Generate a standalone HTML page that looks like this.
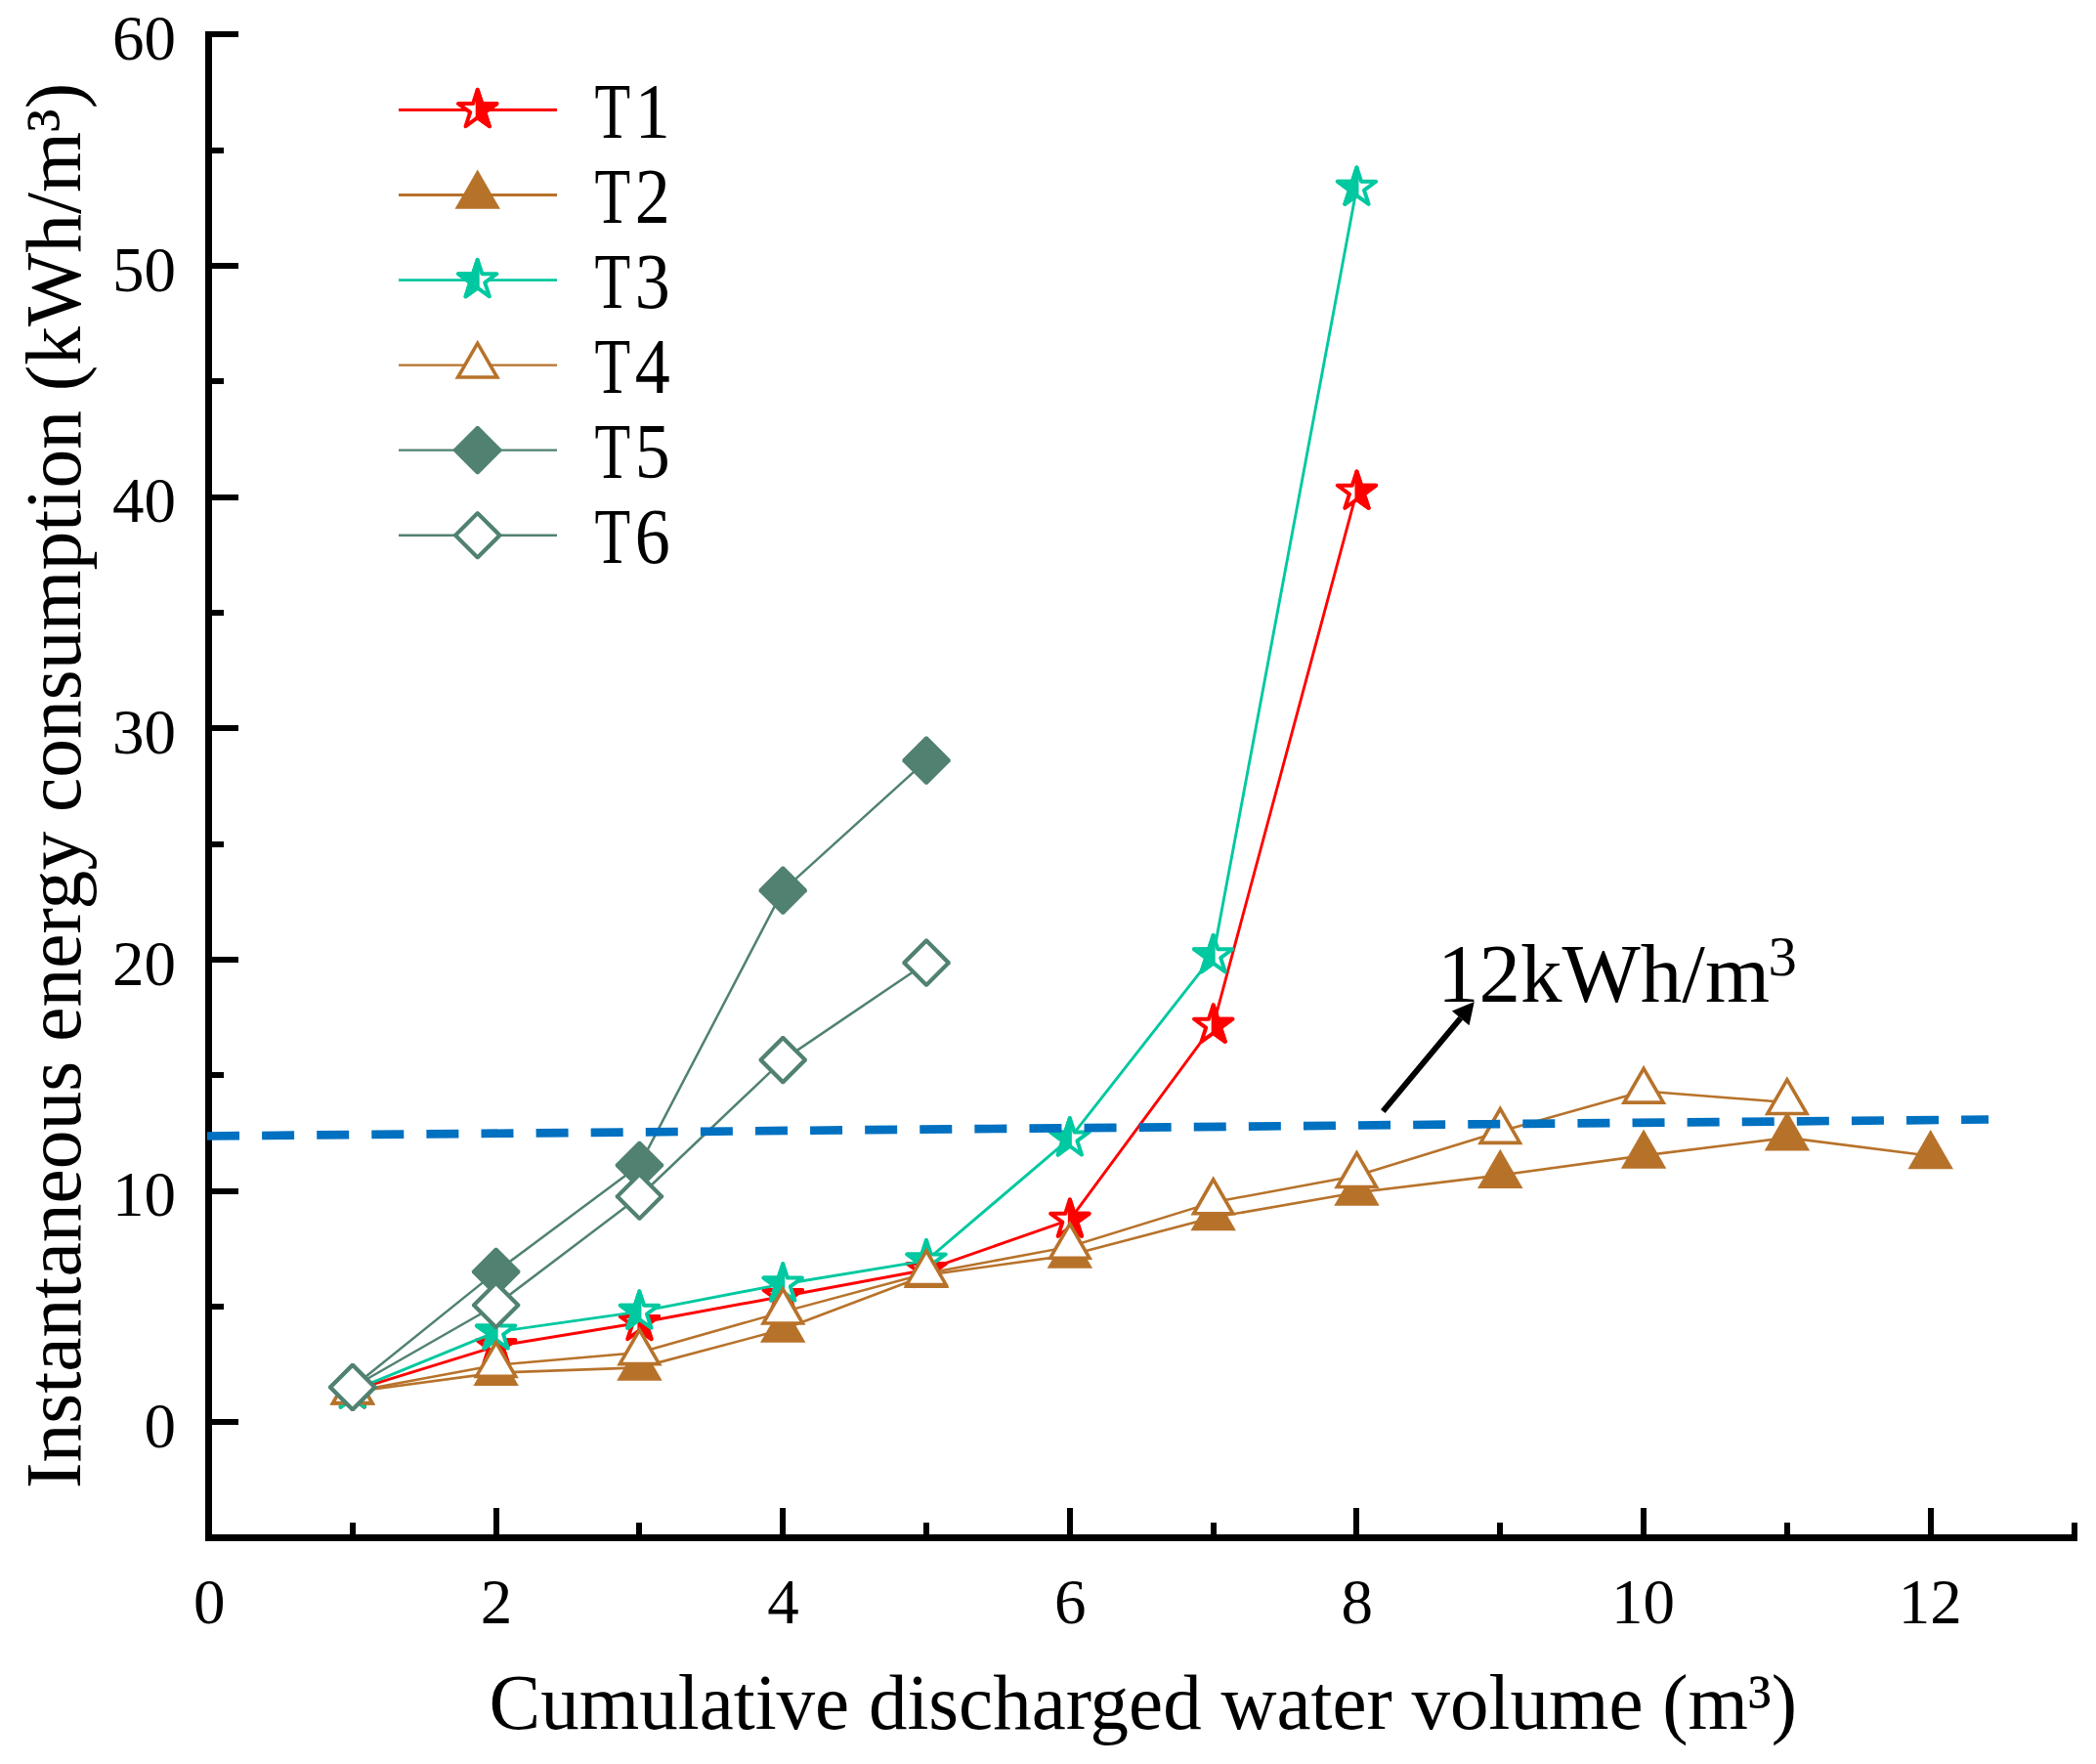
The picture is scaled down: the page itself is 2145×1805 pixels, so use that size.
<!DOCTYPE html>
<html lang="en">
<head>
<meta charset="utf-8">
<title>Instantaneous energy consumption vs cumulative discharged water volume</title>
<style>
html,body{margin:0;padding:0;background:#fff;}
body{width:2145px;height:1805px;overflow:hidden;}
svg{display:block;}
text{font-family:"Liberation Serif",serif;fill:#000;}
</style>
</head>
<body>
<svg width="2145" height="1805" viewBox="0 0 2145 1805">
<rect x="0" y="0" width="2145" height="1805" fill="#fff"/>
<g id="axes" fill="#000" shape-rendering="crispEdges">
<rect x="210" y="32" width="7" height="1545"/>
<rect x="210" y="1570" width="1916" height="7"/>
<rect x="217" y="1452" width="27" height="6"/>
<rect x="217" y="1334" width="12" height="6"/>
<rect x="217" y="1216" width="27" height="6"/>
<rect x="217" y="1097" width="12" height="6"/>
<rect x="217" y="979" width="27" height="6"/>
<rect x="217" y="861" width="12" height="6"/>
<rect x="217" y="742" width="27" height="6"/>
<rect x="217" y="624" width="12" height="6"/>
<rect x="217" y="506" width="27" height="6"/>
<rect x="217" y="387" width="12" height="6"/>
<rect x="217" y="269" width="27" height="6"/>
<rect x="217" y="151" width="12" height="6"/>
<rect x="217" y="32" width="27" height="6"/>
<rect x="358" y="1558" width="6" height="13"/>
<rect x="505" y="1543" width="6" height="28"/>
<rect x="651" y="1558" width="6" height="13"/>
<rect x="798" y="1543" width="6" height="28"/>
<rect x="945" y="1558" width="6" height="13"/>
<rect x="1092" y="1543" width="6" height="28"/>
<rect x="1239" y="1558" width="6" height="13"/>
<rect x="1385" y="1543" width="6" height="28"/>
<rect x="1532" y="1558" width="6" height="13"/>
<rect x="1679" y="1543" width="6" height="28"/>
<rect x="1826" y="1558" width="6" height="13"/>
<rect x="1973" y="1543" width="6" height="28"/>
<rect x="2120" y="1558" width="6" height="13"/>
</g>
<g id="ticklabels" font-size="65">
<text x="180" y="1481" text-anchor="end">0</text>
<text x="180" y="1244.33" text-anchor="end">10</text>
<text x="180" y="1007.67" text-anchor="end">20</text>
<text x="180" y="771" text-anchor="end">30</text>
<text x="180" y="534.33" text-anchor="end">40</text>
<text x="180" y="297.66" text-anchor="end">50</text>
<text x="180" y="61" text-anchor="end">60</text>
<text x="214.3" y="1660.5" text-anchor="middle">0</text>
<text x="507.92" y="1660.5" text-anchor="middle">2</text>
<text x="801.54" y="1660.5" text-anchor="middle">4</text>
<text x="1095.16" y="1660.5" text-anchor="middle">6</text>
<text x="1388.78" y="1660.5" text-anchor="middle">8</text>
<text x="1681.6" y="1660.5" text-anchor="middle">10</text>
<text x="1975.22" y="1660.5" text-anchor="middle">12</text>
</g>
<text id="xtitle" transform="translate(500.6,1768.7) scale(0.9752,1)" font-size="81">Cumulative discharged water volume (m³)</text>
<text id="ytitle" transform="translate(81.7,1523) rotate(-90) scale(0.982,1)" font-size="81">Instantaneous energy consumption (kWh/m³)</text>
<g id="series">
<g id="T1">
<polyline points="360.81,1422.81 507.62,1377.61 654.43,1353.47 801.24,1326.49 948.05,1299.27 1094.86,1248.15 1241.67,1049.12 1388.48,503.13" fill="none" stroke="#ff0000" stroke-width="2.9" stroke-linejoin="round"/>
<polygon points="360.81,1402.11 365.46,1416.42 380.5,1416.42 368.33,1425.26 372.98,1439.56 360.81,1430.72 348.64,1439.56 353.29,1425.26 341.12,1416.42 356.16,1416.42" fill="#fff" stroke="#ff0000" stroke-width="4.0" stroke-linejoin="round"/>
<polygon points="360.81,1402.11 365.46,1416.42 380.5,1416.42 368.33,1425.26 372.98,1439.56 360.81,1430.72" fill="#ff0000" stroke="#ff0000" stroke-width="4.0" stroke-linejoin="round"/>
<polygon points="507.62,1356.91 512.27,1371.21 527.31,1371.21 515.14,1380.05 519.79,1394.36 507.62,1385.52 495.45,1394.36 500.1,1380.05 487.93,1371.21 502.97,1371.21" fill="#fff" stroke="#ff0000" stroke-width="4.0" stroke-linejoin="round"/>
<polygon points="507.62,1356.91 512.27,1371.21 527.31,1371.21 515.14,1380.05 519.79,1394.36 507.62,1385.52" fill="#ff0000" stroke="#ff0000" stroke-width="4.0" stroke-linejoin="round"/>
<polygon points="654.43,1332.77 659.08,1347.07 674.12,1347.07 661.95,1355.91 666.6,1370.22 654.43,1361.38 642.26,1370.22 646.91,1355.91 634.74,1347.07 649.78,1347.07" fill="#fff" stroke="#ff0000" stroke-width="4.0" stroke-linejoin="round"/>
<polygon points="654.43,1332.77 659.08,1347.07 674.12,1347.07 661.95,1355.91 666.6,1370.22 654.43,1361.38" fill="#ff0000" stroke="#ff0000" stroke-width="4.0" stroke-linejoin="round"/>
<polygon points="801.24,1305.79 805.89,1320.09 820.93,1320.09 808.76,1328.93 813.41,1343.24 801.24,1334.4 789.07,1343.24 793.72,1328.93 781.55,1320.09 796.59,1320.09" fill="#fff" stroke="#ff0000" stroke-width="4.0" stroke-linejoin="round"/>
<polygon points="801.24,1305.79 805.89,1320.09 820.93,1320.09 808.76,1328.93 813.41,1343.24 801.24,1334.4" fill="#ff0000" stroke="#ff0000" stroke-width="4.0" stroke-linejoin="round"/>
<polygon points="948.05,1278.57 952.7,1292.88 967.74,1292.88 955.57,1301.72 960.22,1316.02 948.05,1307.18 935.88,1316.02 940.53,1301.72 928.36,1292.88 943.4,1292.88" fill="#fff" stroke="#ff0000" stroke-width="4.0" stroke-linejoin="round"/>
<polygon points="948.05,1278.57 952.7,1292.88 967.74,1292.88 955.57,1301.72 960.22,1316.02 948.05,1307.18" fill="#ff0000" stroke="#ff0000" stroke-width="4.0" stroke-linejoin="round"/>
<polygon points="1094.86,1227.45 1099.51,1241.76 1114.55,1241.76 1102.38,1250.6 1107.03,1264.9 1094.86,1256.06 1082.69,1264.9 1087.34,1250.6 1075.17,1241.76 1090.21,1241.76" fill="#fff" stroke="#ff0000" stroke-width="4.0" stroke-linejoin="round"/>
<polygon points="1094.86,1227.45 1099.51,1241.76 1114.55,1241.76 1102.38,1250.6 1107.03,1264.9 1094.86,1256.06" fill="#ff0000" stroke="#ff0000" stroke-width="4.0" stroke-linejoin="round"/>
<polygon points="1241.67,1028.42 1246.32,1042.72 1261.36,1042.72 1249.19,1051.56 1253.84,1065.86 1241.67,1057.02 1229.5,1065.86 1234.15,1051.56 1221.98,1042.72 1237.02,1042.72" fill="#fff" stroke="#ff0000" stroke-width="4.0" stroke-linejoin="round"/>
<polygon points="1241.67,1028.42 1246.32,1042.72 1261.36,1042.72 1249.19,1051.56 1253.84,1065.86 1241.67,1057.02" fill="#ff0000" stroke="#ff0000" stroke-width="4.0" stroke-linejoin="round"/>
<polygon points="1388.48,482.43 1393.13,496.73 1408.17,496.73 1396,505.57 1400.65,519.87 1388.48,511.03 1376.31,519.87 1380.96,505.57 1368.79,496.73 1383.83,496.73" fill="#fff" stroke="#ff0000" stroke-width="4.0" stroke-linejoin="round"/>
<polygon points="1388.48,482.43 1393.13,496.73 1408.17,496.73 1396,505.57 1400.65,519.87 1388.48,511.03" fill="#ff0000" stroke="#ff0000" stroke-width="4.0" stroke-linejoin="round"/>
</g>
<g id="T2">
<polyline points="360.81,1424.23 507.62,1404.59 654.43,1399.38 801.24,1360.33 948.05,1304.72 1094.86,1284.36 1241.67,1245.79 1388.48,1220.23 1535.29,1202.48 1682.1,1182.36 1828.91,1164.14 1975.72,1182.83" fill="none" stroke="#b7722a" stroke-width="2.6" stroke-linejoin="round"/>
<polygon points="360.81,1397.43 384.02,1437.63 337.6,1437.63" fill="#b7722a"/>
<polygon points="507.62,1377.79 530.83,1417.99 484.41,1417.99" fill="#b7722a"/>
<polygon points="654.43,1372.58 677.64,1412.78 631.22,1412.78" fill="#b7722a"/>
<polygon points="801.24,1333.53 824.45,1373.73 778.03,1373.73" fill="#b7722a"/>
<polygon points="948.05,1277.92 971.26,1318.12 924.84,1318.12" fill="#b7722a"/>
<polygon points="1094.86,1257.56 1118.07,1297.76 1071.65,1297.76" fill="#b7722a"/>
<polygon points="1241.67,1218.99 1264.88,1259.19 1218.46,1259.19" fill="#b7722a"/>
<polygon points="1388.48,1193.43 1411.69,1233.63 1365.27,1233.63" fill="#b7722a"/>
<polygon points="1535.29,1175.68 1558.5,1215.88 1512.08,1215.88" fill="#b7722a"/>
<polygon points="1682.1,1155.56 1705.31,1195.76 1658.89,1195.76" fill="#b7722a"/>
<polygon points="1828.91,1137.34 1852.12,1177.54 1805.7,1177.54" fill="#b7722a"/>
<polygon points="1975.72,1156.03 1998.93,1196.23 1952.51,1196.23" fill="#b7722a"/>
</g>
<g id="T3">
<polyline points="360.81,1422.81 507.62,1362.94 654.43,1342.11 801.24,1313.95 948.05,1289.81 1094.86,1164.85 1241.67,977.64 1388.48,192.14" fill="none" stroke="#00c8a0" stroke-width="2.9" stroke-linejoin="round"/>
<polygon points="360.81,1402.11 365.46,1416.42 380.5,1416.42 368.33,1425.26 372.98,1439.56 360.81,1430.72 348.64,1439.56 353.29,1425.26 341.12,1416.42 356.16,1416.42" fill="#fff" stroke="#00c8a0" stroke-width="4.0" stroke-linejoin="round"/>
<polygon points="360.81,1430.72 348.64,1439.56 353.29,1425.26 341.12,1416.42 356.16,1416.42 360.81,1402.11" fill="#00c8a0" stroke="#00c8a0" stroke-width="4.0" stroke-linejoin="round"/>
<polygon points="507.62,1342.24 512.27,1356.54 527.31,1356.54 515.14,1365.38 519.79,1379.68 507.62,1370.84 495.45,1379.68 500.1,1365.38 487.93,1356.54 502.97,1356.54" fill="#fff" stroke="#00c8a0" stroke-width="4.0" stroke-linejoin="round"/>
<polygon points="507.62,1370.84 495.45,1379.68 500.1,1365.38 487.93,1356.54 502.97,1356.54 507.62,1342.24" fill="#00c8a0" stroke="#00c8a0" stroke-width="4.0" stroke-linejoin="round"/>
<polygon points="654.43,1321.41 659.08,1335.71 674.12,1335.71 661.95,1344.55 666.6,1358.86 654.43,1350.02 642.26,1358.86 646.91,1344.55 634.74,1335.71 649.78,1335.71" fill="#fff" stroke="#00c8a0" stroke-width="4.0" stroke-linejoin="round"/>
<polygon points="654.43,1350.02 642.26,1358.86 646.91,1344.55 634.74,1335.71 649.78,1335.71 654.43,1321.41" fill="#00c8a0" stroke="#00c8a0" stroke-width="4.0" stroke-linejoin="round"/>
<polygon points="801.24,1293.25 805.89,1307.55 820.93,1307.55 808.76,1316.39 813.41,1330.69 801.24,1321.85 789.07,1330.69 793.72,1316.39 781.55,1307.55 796.59,1307.55" fill="#fff" stroke="#00c8a0" stroke-width="4.0" stroke-linejoin="round"/>
<polygon points="801.24,1321.85 789.07,1330.69 793.72,1316.39 781.55,1307.55 796.59,1307.55 801.24,1293.25" fill="#00c8a0" stroke="#00c8a0" stroke-width="4.0" stroke-linejoin="round"/>
<polygon points="948.05,1269.11 952.7,1283.41 967.74,1283.41 955.57,1292.25 960.22,1306.55 948.05,1297.71 935.88,1306.55 940.53,1292.25 928.36,1283.41 943.4,1283.41" fill="#fff" stroke="#00c8a0" stroke-width="4.0" stroke-linejoin="round"/>
<polygon points="948.05,1297.71 935.88,1306.55 940.53,1292.25 928.36,1283.41 943.4,1283.41 948.05,1269.11" fill="#00c8a0" stroke="#00c8a0" stroke-width="4.0" stroke-linejoin="round"/>
<polygon points="1094.86,1144.15 1099.51,1158.45 1114.55,1158.45 1102.38,1167.29 1107.03,1181.59 1094.86,1172.75 1082.69,1181.59 1087.34,1167.29 1075.17,1158.45 1090.21,1158.45" fill="#fff" stroke="#00c8a0" stroke-width="4.0" stroke-linejoin="round"/>
<polygon points="1094.86,1172.75 1082.69,1181.59 1087.34,1167.29 1075.17,1158.45 1090.21,1158.45 1094.86,1144.15" fill="#00c8a0" stroke="#00c8a0" stroke-width="4.0" stroke-linejoin="round"/>
<polygon points="1241.67,956.94 1246.32,971.25 1261.36,971.25 1249.19,980.09 1253.84,994.39 1241.67,985.55 1229.5,994.39 1234.15,980.09 1221.98,971.25 1237.02,971.25" fill="#fff" stroke="#00c8a0" stroke-width="4.0" stroke-linejoin="round"/>
<polygon points="1241.67,985.55 1229.5,994.39 1234.15,980.09 1221.98,971.25 1237.02,971.25 1241.67,956.94" fill="#00c8a0" stroke="#00c8a0" stroke-width="4.0" stroke-linejoin="round"/>
<polygon points="1388.48,171.44 1393.13,185.75 1408.17,185.75 1396,194.59 1400.65,208.89 1388.48,200.05 1376.31,208.89 1380.96,194.59 1368.79,185.75 1383.83,185.75" fill="#fff" stroke="#00c8a0" stroke-width="4.0" stroke-linejoin="round"/>
<polygon points="1388.48,200.05 1376.31,208.89 1380.96,194.59 1368.79,185.75 1383.83,185.75 1388.48,171.44" fill="#00c8a0" stroke="#00c8a0" stroke-width="4.0" stroke-linejoin="round"/>
</g>
<g id="T4">
<polyline points="360.81,1424 507.62,1396.78 654.43,1384 801.24,1342.35 948.05,1303.06 1094.86,1275.61 1241.67,1230.17 1388.48,1202.95 1535.29,1157.75 1682.1,1116.57 1828.91,1127.93" fill="none" stroke="#b7722a" stroke-width="2.5" stroke-linejoin="round"/>
<polygon points="360.81,1397.2 384.02,1437.4 337.6,1437.4" fill="#b7722a"/>
<polygon points="360.81,1404.4 377.78,1433.8 343.84,1433.8" fill="#fff"/>
<polygon points="507.62,1369.98 530.83,1410.18 484.41,1410.18" fill="#b7722a"/>
<polygon points="507.62,1377.18 524.59,1406.58 490.65,1406.58" fill="#fff"/>
<polygon points="654.43,1357.2 677.64,1397.4 631.22,1397.4" fill="#b7722a"/>
<polygon points="654.43,1364.4 671.4,1393.8 637.46,1393.8" fill="#fff"/>
<polygon points="801.24,1315.55 824.45,1355.75 778.03,1355.75" fill="#b7722a"/>
<polygon points="801.24,1322.75 818.21,1352.15 784.27,1352.15" fill="#fff"/>
<polygon points="948.05,1276.26 971.26,1316.46 924.84,1316.46" fill="#b7722a"/>
<polygon points="948.05,1283.46 965.02,1312.86 931.08,1312.86" fill="#fff"/>
<polygon points="1094.86,1248.81 1118.07,1289.01 1071.65,1289.01" fill="#b7722a"/>
<polygon points="1094.86,1256.01 1111.83,1285.41 1077.89,1285.41" fill="#fff"/>
<polygon points="1241.67,1203.37 1264.88,1243.57 1218.46,1243.57" fill="#b7722a"/>
<polygon points="1241.67,1210.57 1258.64,1239.97 1224.7,1239.97" fill="#fff"/>
<polygon points="1388.48,1176.15 1411.69,1216.35 1365.27,1216.35" fill="#b7722a"/>
<polygon points="1388.48,1183.35 1405.45,1212.75 1371.51,1212.75" fill="#fff"/>
<polygon points="1535.29,1130.95 1558.5,1171.15 1512.08,1171.15" fill="#b7722a"/>
<polygon points="1535.29,1138.15 1552.26,1167.55 1518.32,1167.55" fill="#fff"/>
<polygon points="1682.1,1089.77 1705.31,1129.97 1658.89,1129.97" fill="#b7722a"/>
<polygon points="1682.1,1096.97 1699.07,1126.37 1665.13,1126.37" fill="#fff"/>
<polygon points="1828.91,1101.13 1852.12,1141.33 1805.7,1141.33" fill="#b7722a"/>
<polygon points="1828.91,1108.33 1845.88,1137.73 1811.94,1137.73" fill="#fff"/>
</g>
<g id="T5">
<polyline points="360.81,1419.5 507.62,1301.4 654.43,1192.3 801.24,911.14 948.05,778.13" fill="none" stroke="#508171" stroke-width="2.5" stroke-linejoin="round"/>
<polygon points="359.71,1394.9 361.91,1394.9 385.41,1418.4 385.41,1420.6 361.91,1444.1 359.71,1444.1 336.21,1420.6 336.21,1418.4" fill="#508171"/>
<polygon points="506.52,1276.8 508.72,1276.8 532.22,1300.3 532.22,1302.5 508.72,1326 506.52,1326 483.02,1302.5 483.02,1300.3" fill="#508171"/>
<polygon points="653.33,1167.7 655.53,1167.7 679.03,1191.2 679.03,1193.4 655.53,1216.9 653.33,1216.9 629.83,1193.4 629.83,1191.2" fill="#508171"/>
<polygon points="800.14,886.54 802.34,886.54 825.84,910.04 825.84,912.24 802.34,935.74 800.14,935.74 776.64,912.24 776.64,910.04" fill="#508171"/>
<polygon points="946.95,753.53 949.15,753.53 972.65,777.03 972.65,779.23 949.15,802.73 946.95,802.73 923.45,779.23 923.45,777.03" fill="#508171"/>
</g>
<g id="T6">
<polyline points="360.81,1419.5 507.62,1335.48 654.43,1224.25 801.24,1084.62 948.05,985.22" fill="none" stroke="#508171" stroke-width="2.5" stroke-linejoin="round"/>
<polygon points="359.71,1394.9 361.91,1394.9 385.41,1418.4 385.41,1420.6 361.91,1444.1 359.71,1444.1 336.21,1420.6 336.21,1418.4" fill="#508171"/>
<polygon points="360.81,1399.78 380.53,1419.5 360.81,1439.22 341.09,1419.5" fill="#fff"/>
<polygon points="506.52,1310.88 508.72,1310.88 532.22,1334.38 532.22,1336.58 508.72,1360.08 506.52,1360.08 483.02,1336.58 483.02,1334.38" fill="#508171"/>
<polygon points="507.62,1315.76 527.34,1335.48 507.62,1355.2 487.9,1335.48" fill="#fff"/>
<polygon points="653.33,1199.65 655.53,1199.65 679.03,1223.15 679.03,1225.35 655.53,1248.85 653.33,1248.85 629.83,1225.35 629.83,1223.15" fill="#508171"/>
<polygon points="654.43,1204.53 674.15,1224.25 654.43,1243.97 634.71,1224.25" fill="#fff"/>
<polygon points="800.14,1060.02 802.34,1060.02 825.84,1083.52 825.84,1085.72 802.34,1109.22 800.14,1109.22 776.64,1085.72 776.64,1083.52" fill="#508171"/>
<polygon points="801.24,1064.9 820.96,1084.62 801.24,1104.34 781.52,1084.62" fill="#fff"/>
<polygon points="946.95,960.62 949.15,960.62 972.65,984.12 972.65,986.32 949.15,1009.82 946.95,1009.82 923.45,986.32 923.45,984.12" fill="#508171"/>
<polygon points="948.05,965.5 967.77,985.22 948.05,1004.94 928.33,985.22" fill="#fff"/>
</g>
</g>
<line id="ref" x1="212" y1="1162.5" x2="2035" y2="1145.5" stroke="#0070c0" stroke-width="8.7" stroke-dasharray="33 23.1"/>
<line x1="1415.3" y1="1137.1" x2="1494.71" y2="1041.89" stroke="#000" stroke-width="6" stroke-linecap="butt"/>
<polygon points="1508.8,1025 1503.54,1049.26 1485.88,1034.53" fill="#000"/>
<text id="anno" transform="translate(1471,1025.4) scale(1.0125,1)" font-size="84">12kWh/m<tspan font-size="58" dy="-27" dx="-1.5">3</tspan></text>
<g id="legend">
<line x1="408" y1="112.5" x2="570" y2="112.5" stroke="#ff0000" stroke-width="2.9"/>
<polygon points="488.7,91.8 493.35,106.1 508.39,106.1 496.22,114.94 500.87,129.25 488.7,120.41 476.53,129.25 481.18,114.94 469.01,106.1 484.05,106.1" fill="#fff" stroke="#ff0000" stroke-width="4.0" stroke-linejoin="round"/>
<polygon points="488.7,91.8 493.35,106.1 508.39,106.1 496.22,114.94 500.87,129.25 488.7,120.41" fill="#ff0000" stroke="#ff0000" stroke-width="4.0" stroke-linejoin="round"/>
<text class="leg" y="141.1" font-size="80"><tspan x="608.6" textLength="36.66" lengthAdjust="spacingAndGlyphs">T</tspan><tspan x="649.8" textLength="36" lengthAdjust="spacingAndGlyphs">1</tspan></text>
<line x1="408" y1="199.55" x2="570" y2="199.55" stroke="#b7722a" stroke-width="2.9"/>
<polygon points="488.7,173.55 511.91,213.75 465.49,213.75" fill="#b7722a"/>
<text class="leg" y="228.15" font-size="80"><tspan x="608.6" textLength="36.66" lengthAdjust="spacingAndGlyphs">T</tspan><tspan x="649.8" textLength="36" lengthAdjust="spacingAndGlyphs">2</tspan></text>
<line x1="408" y1="286.6" x2="570" y2="286.6" stroke="#00c8a0" stroke-width="2.9"/>
<polygon points="488.7,265.9 493.35,280.2 508.39,280.2 496.22,289.04 500.87,303.35 488.7,294.51 476.53,303.35 481.18,289.04 469.01,280.2 484.05,280.2" fill="#fff" stroke="#00c8a0" stroke-width="4.0" stroke-linejoin="round"/>
<polygon points="488.7,294.51 476.53,303.35 481.18,289.04 469.01,280.2 484.05,280.2 488.7,265.9" fill="#00c8a0" stroke="#00c8a0" stroke-width="4.0" stroke-linejoin="round"/>
<text class="leg" y="315.2" font-size="80"><tspan x="608.6" textLength="36.66" lengthAdjust="spacingAndGlyphs">T</tspan><tspan x="649.8" textLength="36" lengthAdjust="spacingAndGlyphs">3</tspan></text>
<line x1="408" y1="373.65" x2="570" y2="373.65" stroke="#b7722a" stroke-width="2.3"/>
<polygon points="488.7,347.65 511.91,387.85 465.49,387.85" fill="#b7722a"/>
<polygon points="488.7,354.85 505.67,384.25 471.73,384.25" fill="#fff"/>
<text class="leg" y="402.25" font-size="80"><tspan x="608.6" textLength="36.66" lengthAdjust="spacingAndGlyphs">T</tspan><tspan x="649.8" textLength="36" lengthAdjust="spacingAndGlyphs">4</tspan></text>
<line x1="408" y1="460.7" x2="570" y2="460.7" stroke="#508171" stroke-width="2.3"/>
<polygon points="487.6,436.1 489.8,436.1 513.3,459.6 513.3,461.8 489.8,485.3 487.6,485.3 464.1,461.8 464.1,459.6" fill="#508171"/>
<text class="leg" y="489.3" font-size="80"><tspan x="608.6" textLength="36.66" lengthAdjust="spacingAndGlyphs">T</tspan><tspan x="649.8" textLength="36" lengthAdjust="spacingAndGlyphs">5</tspan></text>
<line x1="408" y1="547.75" x2="570" y2="547.75" stroke="#508171" stroke-width="2.3"/>
<polygon points="487.6,523.15 489.8,523.15 513.3,546.65 513.3,548.85 489.8,572.35 487.6,572.35 464.1,548.85 464.1,546.65" fill="#508171"/>
<polygon points="488.7,528.03 508.42,547.75 488.7,567.47 468.98,547.75" fill="#fff"/>
<text class="leg" y="576.35" font-size="80"><tspan x="608.6" textLength="36.66" lengthAdjust="spacingAndGlyphs">T</tspan><tspan x="649.8" textLength="36" lengthAdjust="spacingAndGlyphs">6</tspan></text>
</g>
</svg>
</body>
</html>
